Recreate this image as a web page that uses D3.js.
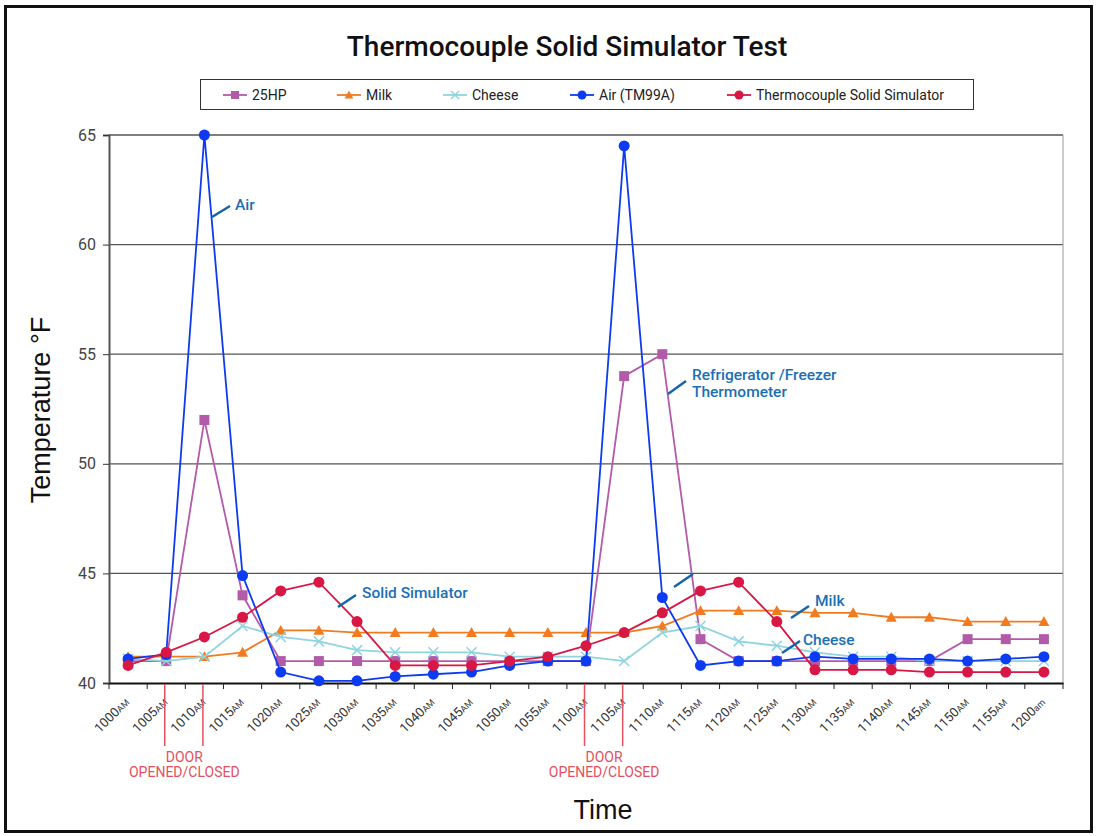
<!DOCTYPE html>
<html>
<head>
<meta charset="utf-8">
<script src="https://cdn.jsdelivr.net/npm/d3@7"></script>
<style>
  html, body { margin: 0; padding: 0; background: #fff; }
  svg { display: block; }
</style>
</head>
<body>
<svg id="chart" width="1098" height="836"></svg>
<script>
// Reading times (5‑minute intervals) and the tick suffixes shown under each
const categories = ["1000","1005","1010","1015","1020","1025","1030","1035","1040","1045","1050","1055",
                    "1100","1105","1110","1115","1120","1125","1130","1135","1140","1145","1150","1155","1200"];
const suffixes = ["AM","AM","AM","AM","AM","AM","AM","AM","AM","AM","AM","AM",
                  "AM","AM","AM","AM","AM","AM","AM","AM","AM","AM","AM","AM","am"];

// Temperatures (°F)
const hp25   = [41.0,41.0,52.0,44.0,41.0,41.0,41.0,41.0,41.0,41.0,41.0,41.0,41.0,54.0,55.0,42.0,41.0,41.0,41.0,41.0,41.0,41.0,42.0,42.0,42.0];
const milk   = [41.2,41.2,41.2,41.4,42.4,42.4,42.3,42.3,42.3,42.3,42.3,42.3,42.3,42.3,42.6,43.3,43.3,43.3,43.2,43.2,43.0,43.0,42.8,42.8,42.8];
const cheese = [41.1,41.0,41.2,42.6,42.1,41.9,41.5,41.4,41.4,41.4,41.2,41.2,41.2,41.0,42.3,42.6,41.9,41.7,41.4,41.2,41.2,41.0,41.0,41.0,41.0];
const air    = [41.1,41.3,65.0,44.9,40.5,40.1,40.1,40.3,40.4,40.5,40.8,41.0,41.0,64.5,43.9,40.8,41.0,41.0,41.2,41.1,41.1,41.1,41.0,41.1,41.2];
const simulator = [40.8,41.4,42.1,43.0,44.2,44.6,42.8,40.8,40.8,40.8,41.0,41.2,41.7,42.3,43.2,44.2,44.6,42.8,40.6,40.6,40.6,40.5,40.5,40.5,40.5];

const seriesNames = ["25HP","Milk","Cheese","Air (TM99A)","Thermocouple Solid Simulator"];
const yTicks = [40,45,50,55,60,65];

// Door events (opened at first reading, closed at second)
const doorEvents = [["1005","1010"],["1100","1105"]];

const series = [
  { name: seriesNames[0], values: hp25,      color: "#b25ba9", marker: "square" },
  { name: seriesNames[1], values: milk,      color: "#f27b20", marker: "triangle" },
  { name: seriesNames[2], values: cheese,    color: "#8fd4df", marker: "cross" },
  { name: seriesNames[3], values: air,       color: "#0d3bf2", marker: "circle" },
  { name: seriesNames[4], values: simulator, color: "#d81745", marker: "circle" }
];

const svg = d3.select("#chart");
const plot = { left: 109, right: 1063, top: 135, bottom: 683 };

const x = d3.scaleBand().domain(categories).range([plot.left, plot.right]).padding(0);
const cx = c => x(c) + x.bandwidth() / 2;
const y = d3.scaleLinear().domain([40, 65]).range([plot.bottom, plot.top]);

// Outer frame
svg.append("rect").attr("x", 5.5).attr("y", 6.5).attr("width", 1086).attr("height", 825)
  .attr("fill", "#fff").attr("stroke", "#111").attr("stroke-width", 3);

// Title
svg.append("text").attr("x", 567).attr("y", 56).attr("text-anchor", "middle")
  .attr("font-family", "Roboto, sans-serif").attr("font-size", 28).attr("font-weight", 500)
  .attr("fill", "#111").text("Thermocouple Solid Simulator Test");

// Horizontal gridlines
svg.append("g").selectAll("line").data(yTicks.filter(t => t > 40)).join("line")
  .attr("x1", plot.left).attr("x2", plot.right)
  .attr("y1", d => y(d)).attr("y2", d => y(d))
  .attr("stroke", "#555").attr("stroke-width", 1.3);

// Right edge of the plot area
svg.append("line").attr("x1", plot.right).attr("x2", plot.right)
  .attr("y1", plot.top).attr("y2", plot.bottom).attr("stroke", "#999").attr("stroke-width", 1);

// Y axis
const yAxis = svg.append("g").attr("transform", `translate(${plot.left},0)`)
  .call(d3.axisLeft(y).tickValues(yTicks).tickSize(6).tickPadding(7));
yAxis.select(".domain").attr("stroke", "#555").attr("stroke-width", 2);
yAxis.selectAll(".tick line").attr("stroke", "#333");
yAxis.selectAll(".tick text").attr("font-family", "Roboto, sans-serif").attr("font-size", 16).attr("fill", "#444");

// X axis: ticks on the band boundaries, labels at band centres
const xAxis = svg.append("g").attr("transform", `translate(0,${plot.bottom})`)
  .call(d3.axisBottom(x).tickSize(0).tickFormat(""));
xAxis.select(".domain").attr("stroke", "#111").attr("stroke-width", 2);
const boundaries = categories.map(c => x(c)).concat([x(categories[categories.length - 1]) + x.bandwidth()]);
xAxis.append("g").selectAll("line").data(boundaries).join("line")
  .attr("x1", d => d).attr("x2", d => d).attr("y1", 0).attr("y2", 6)
  .attr("stroke", "#222").attr("stroke-width", 1);

const xLabels = svg.append("g").selectAll("text").data(categories).join("text")
  .attr("transform", c => `translate(${cx(c) + 2},${plot.bottom + 20}) rotate(-45)`)
  .attr("text-anchor", "end")
  .attr("font-family", "Roboto, sans-serif").attr("font-size", 13).attr("fill", "#333");
xLabels.append("tspan").text(c => c);
xLabels.append("tspan").attr("font-size", 9).text((c, i) => suffixes[i]);

// Door opened/closed markers
const doorG = svg.append("g");
doorEvents.forEach(ev => {
  ev.forEach(c => {
    doorG.append("line").attr("x1", cx(c) - 1.5).attr("x2", cx(c) - 1.5)
      .attr("y1", plot.bottom + 1).attr("y2", 746)
      .attr("stroke", "#e4505e").attr("stroke-width", 1.5);
  });
  const mid = (cx(ev[0]) + cx(ev[1])) / 2 - 1;
  doorG.append("text").attr("x", mid).attr("y", 762).attr("text-anchor", "middle")
    .attr("font-family", "Roboto, sans-serif").attr("font-size", 14).attr("fill", "#e4505e").text("DOOR");
  doorG.append("text").attr("x", mid).attr("y", 777).attr("text-anchor", "middle")
    .attr("font-family", "Roboto, sans-serif").attr("font-size", 14).attr("fill", "#e4505e").text("OPENED/CLOSED");
});

// Marker drawing helper
function drawMarker(g, type, color, px, py, s) {
  if (type === "square") {
    g.append("rect").attr("x", px - s).attr("y", py - s).attr("width", 2 * s).attr("height", 2 * s).attr("fill", color);
  } else if (type === "triangle") {
    const h = s * 1.1;
    g.append("path").attr("d", `M${px},${py - h}L${px + h},${py + h * 0.8}L${px - h},${py + h * 0.8}Z`).attr("fill", color);
  } else if (type === "cross") {
    g.append("path").attr("d", `M${px - s},${py - s}L${px + s},${py + s}M${px - s},${py + s}L${px + s},${py - s}`)
      .attr("stroke", color).attr("stroke-width", 1.5).attr("fill", "none");
  } else {
    g.append("circle").attr("cx", px).attr("cy", py).attr("r", s + 0.5).attr("fill", color);
  }
}

// Series lines and markers
const line = d3.line().x((d, i) => cx(categories[i])).y(d => y(d));
series.forEach(s => {
  const g = svg.append("g");
  g.append("path").datum(s.values).attr("d", line)
    .attr("fill", "none").attr("stroke", s.color).attr("stroke-width", 1.8);
  s.values.forEach((v, i) => drawMarker(g, s.marker, s.color, cx(categories[i]), y(v), 5));
});

// Callout labels
const calloutColor = "#1a6fb5";
const callouts = [
  { lines: ["Air"], tx: 235, ty: 210, seg: [212, 217, 230, 206] },
  { lines: ["Solid Simulator"], tx: 362, ty: 598, seg: [338, 607, 356, 595] },
  { lines: ["Refrigerator /Freezer", "Thermometer"], tx: 692, ty: 380, seg: [668, 394, 686, 381] },
  { lines: [], tx: 0, ty: 0, seg: [674, 587, 693, 574] },
  { lines: ["Milk"], tx: 815, ty: 606, seg: [791, 618, 809, 606] },
  { lines: ["Cheese"], tx: 803, ty: 645, seg: [782, 653, 800, 641] }
];
const calloutG = svg.append("g");
callouts.forEach(c => {
  calloutG.append("line").attr("x1", c.seg[0]).attr("y1", c.seg[1]).attr("x2", c.seg[2]).attr("y2", c.seg[3])
    .attr("stroke", "#1565a8").attr("stroke-width", 2.5);
  c.lines.forEach((t, k) => {
    calloutG.append("text").attr("x", c.tx).attr("y", c.ty + k * 17)
      .attr("font-family", "Roboto, sans-serif").attr("font-size", 15.5).attr("font-weight", 500)
      .attr("fill", calloutColor).text(t);
  });
});

// Legend
const legendG = svg.append("g");
legendG.append("rect").attr("x", 200.5).attr("y", 79.5).attr("width", 773).attr("height", 30)
  .attr("fill", "#fff").attr("stroke", "#333").attr("stroke-width", 1);
const legendX = [223, 337, 443, 570, 727];
series.forEach((s, i) => {
  const lx = legendX[i], ly = 95;
  legendG.append("line").attr("x1", lx).attr("x2", lx + 24).attr("y1", ly).attr("y2", ly)
    .attr("stroke", s.color).attr("stroke-width", 1.8);
  drawMarker(legendG, s.marker, s.color, lx + 12, ly, 4);
  legendG.append("text").attr("x", lx + 29).attr("y", ly + 5)
    .attr("font-family", "Roboto, sans-serif").attr("font-size", 14).attr("fill", "#222").text(s.name);
});

// Axis titles
svg.append("text").attr("transform", `translate(50,410) rotate(-90)`).attr("text-anchor", "middle")
  .attr("font-family", "Liberation Sans, Arial, sans-serif").attr("font-size", 27).attr("fill", "#111")
  .text("Temperature °F");
svg.append("text").attr("x", 603).attr("y", 819).attr("text-anchor", "middle")
  .attr("font-family", "Liberation Sans, Arial, sans-serif").attr("font-size", 27).attr("fill", "#111")
  .text("Time");
</script>
</body>
</html>
